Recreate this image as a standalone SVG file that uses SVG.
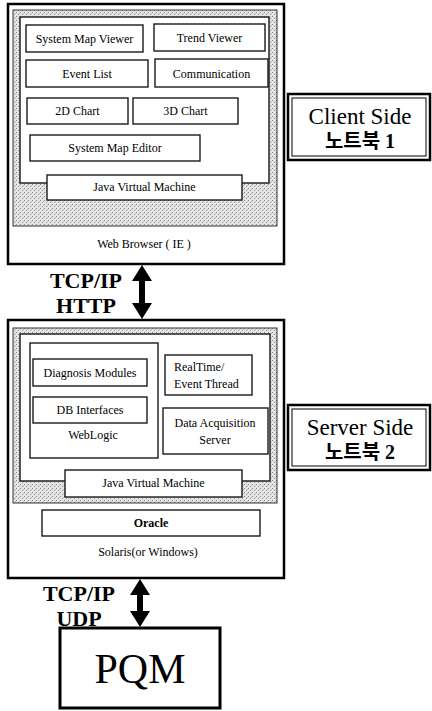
<svg xmlns="http://www.w3.org/2000/svg" width="432" height="711" viewBox="0 0 432 711">
<defs>
<pattern id="stip" width="4" height="4" patternUnits="userSpaceOnUse">
<rect width="4" height="4" fill="#e4e4e4"/>
<rect x="0" y="0" width="1" height="1" fill="#8a8a8a"/>
<rect x="2" y="2" width="1" height="1" fill="#9a9a9a"/>
<rect x="3" y="1" width="1" height="1" fill="#bbbbbb"/>
</pattern>
<marker id="head" markerUnits="userSpaceOnUse" markerWidth="16" markerHeight="20" refX="1" refY="10" orient="auto-start-reverse" viewBox="0 0 16 20">
<path d="M0,0 L16,10 L0,20 z" fill="#000"/>
</marker>
</defs>
<style>
.outer{fill:#fff;stroke:#000;stroke-width:2.5}
.shade{fill:url(#stip);stroke:#333;stroke-width:1}
.panel{fill:#fff;stroke:#222;stroke-width:1.5}
.box{fill:#fff;stroke:#1a1a1a;stroke-width:1.4}
.t{font-family:"Liberation Serif",serif;font-size:12px;fill:#000;text-anchor:middle}
.tl{font-family:"Liberation Serif",serif;font-size:12px;fill:#000}
.big{font-family:"Liberation Serif",serif;font-size:22px;font-weight:bold;fill:#000;text-anchor:middle}
.lbl{font-family:"Liberation Serif","Noto Sans CJK KR",serif;font-size:23px;fill:#000;text-anchor:middle}
.kr{font-family:"Liberation Serif","Noto Sans CJK KR",serif;font-size:20px;font-weight:bold;fill:#000;text-anchor:middle}
.dbl-o{fill:#fff;stroke:#000;stroke-width:2.5}
.dbl-i{fill:none;stroke:#000;stroke-width:1}
.conn{stroke:#000;stroke-width:6;fill:none}
</style>

<g id="client">
<rect class="outer" x="8" y="4" width="276" height="260"/>
<rect class="shade" x="13" y="10" width="264" height="216"/>
<rect class="panel" x="20" y="17" width="249" height="166"/>
<text class="t" x="144" y="248">Web Browser ( IE )</text>
</g>
<g id="system-map-viewer"><rect class="box" x="26" y="25" width="117" height="27"/><text class="t" x="84.5" y="43">System Map Viewer</text></g>
<g id="trend-viewer"><rect class="box" x="154" y="24" width="111" height="27"/><text class="t" x="209.5" y="42">Trend Viewer</text></g>
<g id="event-list"><rect class="box" x="26" y="60" width="122" height="27"/><text class="t" x="87" y="78">Event List</text></g>
<g id="communication"><rect class="box" x="155" y="59" width="113" height="28"/><text class="t" x="211.5" y="78">Communication</text></g>
<g id="chart-2d"><rect class="box" x="27" y="98" width="101" height="26"/><text class="t" x="77.5" y="115">2D Chart</text></g>
<g id="chart-3d"><rect class="box" x="133" y="98" width="105" height="26"/><text class="t" x="185.5" y="115">3D Chart</text></g>
<g id="system-map-editor"><rect class="box" x="30" y="135" width="170" height="26"/><text class="t" x="115" y="152">System Map Editor</text></g>
<g id="client-jvm"><rect class="box" x="47" y="175" width="195" height="25"/><text class="t" x="144.5" y="191">Java Virtual Machine</text></g>

<g id="client-label">
<rect class="dbl-o" x="288" y="94" width="142" height="66"/>
<rect class="dbl-i" x="292" y="98" width="134" height="58"/>
<text class="lbl" x="360" y="124">Client Side</text>
<text class="kr" x="360" y="148">노트북 1</text>
</g>

<g id="server">
<rect class="outer" x="8" y="320" width="276" height="258"/>
<rect class="shade" x="13" y="328" width="264" height="175"/>
<rect class="panel" x="20" y="334" width="250" height="147"/>
<text class="t" x="148" y="556">Solaris(or Windows)</text>
</g>
<g id="weblogic">
<rect class="box" x="30" y="343" width="128" height="115"/>
<text class="t" x="93" y="439">WebLogic</text>
</g>
<g id="diagnosis-modules"><rect class="box" x="33" y="359" width="114" height="27"/><text class="t" x="90" y="377">Diagnosis Modules</text></g>
<g id="db-interfaces"><rect class="box" x="33" y="397" width="114" height="26"/><text class="t" x="90" y="414">DB Interfaces</text></g>
<g id="realtime-thread"><rect class="box" x="165" y="355" width="87" height="40"/><text class="tl" x="174" y="371">RealTime/</text><text class="tl" x="174" y="388">Event Thread</text></g>
<g id="data-acquisition"><rect class="box" x="163" y="408" width="105" height="46"/><text class="t" x="215" y="427">Data Acquisition</text><text class="t" x="215" y="444">Server</text></g>
<g id="server-jvm"><rect class="box" x="65" y="470" width="177" height="27"/><text class="t" x="153.5" y="487">Java Virtual Machine</text></g>
<g id="oracle"><rect class="box" x="42" y="510" width="218" height="26"/><text class="t" x="151" y="527" font-weight="bold">Oracle</text></g>

<g id="server-label">
<rect class="dbl-o" x="288" y="405" width="142" height="65"/>
<rect class="dbl-i" x="292" y="409" width="134" height="57"/>
<text class="lbl" x="360" y="435">Server Side</text>
<text class="kr" x="360" y="459">노트북 2</text>
</g>

<g id="pqm">
<rect x="60" y="628" width="160" height="80" fill="#fff" stroke="#000" stroke-width="3"/>
<text x="140" y="683" font-family="Liberation Serif,serif" font-size="42" text-anchor="middle" fill="#000">PQM</text>
</g>

<g id="connectors">
<line class="conn" x1="142" y1="280" x2="142" y2="304" marker-start="url(#head)" marker-end="url(#head)"/>
<text class="big" x="86" y="288">TCP/IP</text>
<text class="big" x="86" y="313">HTTP</text>
<line class="conn" x1="140" y1="594" x2="140" y2="612" marker-start="url(#head)" marker-end="url(#head)"/>
<text class="big" x="79" y="601">TCP/IP</text>
<text class="big" x="79" y="626">UDP</text>
</g>
</svg>
